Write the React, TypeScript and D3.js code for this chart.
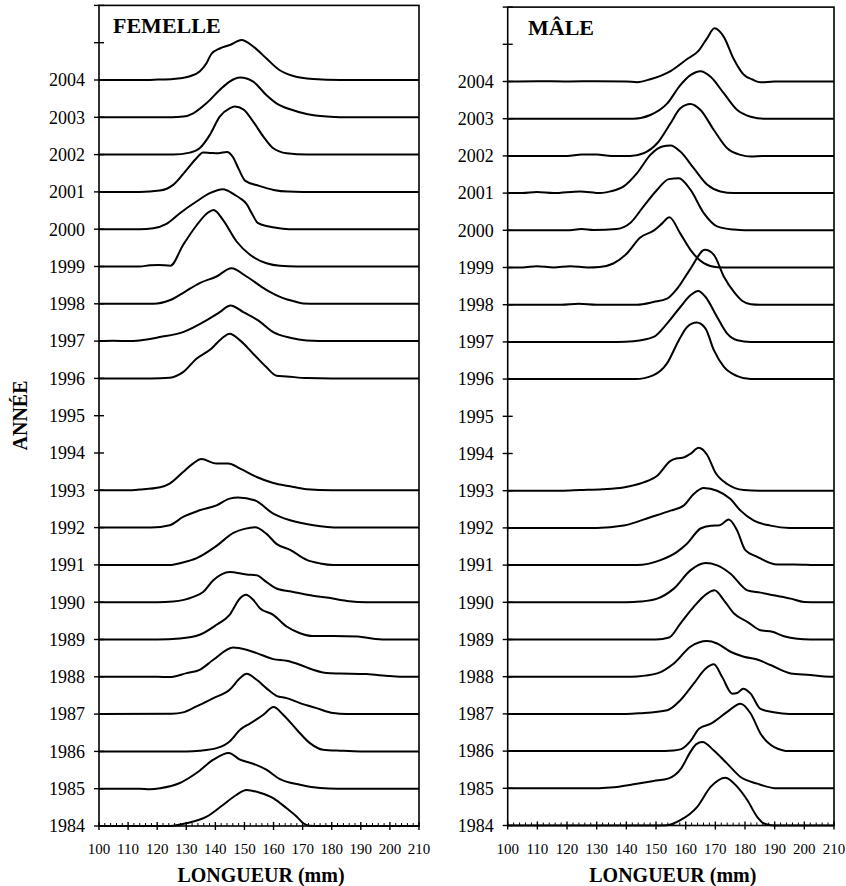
import React from "react";
import * as d3 from "d3";

// ---------- tick labels ----------
const X_TICKS = [100, 110, 120, 130, 140, 150, 160, 170, 180, 190, 200, 210];
const YEAR_LABELS = [1984, 1985, 1986, 1987, 1988, 1989, 1990, 1991, 1992, 1993, 1994, 1995, 1996, 1997, 1998, 1999, 2000, 2001, 2002, 2003, 2004];
const YEARS = [1984, 1985, 1986, 1987, 1988, 1989, 1990, 1991, 1992, 1993, 1996, 1997, 1998, 1999, 2000, 2001, 2002, 2003, 2004];
// frequency that corresponds to one year-row of height
const ROW_UNIT = 37.3;

type P = [number, number];

// ---------- FEMELLE: [longueur mm, fréquence] ----------
const F_1984: P[] = [[100,0],[124,0],[125.5,0.3],[130,2.7],[137,9.3],[142.6,21],[147.2,31],[150.7,36],[155.3,33.3],[160,27.7],[164.5,17.7],[168,9.3],[170.2,2.7],[172.5,0.3],[175,0],[210,0]];
const F_1985: P[] = [[100,0],[114,0],[117.5,-0.5],[121,0.5],[127.8,5.7],[133.5,15.7],[139.3,29],[144.6,35.7],[148.5,29],[153,25],[157.5,19],[162.2,9.5],[169.1,4],[176,0.7],[182,0],[210,0]];
const F_1986: P[] = [[100,0],[130,0],[134.6,0.7],[140.4,3.3],[144.9,10],[148.5,21.7],[152,28],[156.5,36.7],[160,44.3],[163.3,36.7],[168,21.7],[172.5,8.3],[177,1.7],[183,0.7],[190,0],[210,0]];
const F_1987: P[] = [[100,0],[125,0.3],[128.9,1.7],[133.5,7.7],[139.3,16],[144.9,24.3],[148.5,36],[150.7,40.3],[154.2,34.3],[157.5,26],[161,18.3],[164.5,16],[169.1,11],[174.8,6],[180.5,1],[185,0],[210,0]];
const F_1988: P[] = [[100,0],[120,0],[124.3,-0.3],[130.1,3.7],[134.6,7],[139.3,17],[146.1,29.3],[150.7,27],[154.2,23.7],[159.9,17.7],[164.5,16],[169.1,12],[173.6,7],[178.3,3.7],[183,3.3],[192,2.7],[200,0.7],[205,0],[210,0]];
const F_1989: P[] = [[100,0],[120,0],[127.8,1],[134.6,4.7],[140.4,14.7],[144.9,24.7],[148.5,41.3],[150.5,44.7],[153,39.7],[155.3,31.3],[159.9,24.7],[164.5,13],[169.1,6.3],[173.6,3.5],[180.5,3.5],[189,3],[195,0.5],[200,0],[210,0]];
const F_1990: P[] = [[100,0],[120,0],[125.5,0.7],[132.4,5.3],[135.8,10.3],[139.3,22],[144.9,30.3],[150.7,27.7],[154.2,27],[157.5,20.3],[161,13.7],[166.8,10.3],[173.6,6.5],[178.3,4.7],[185.2,1.3],[192,0],[210,0]];
const F_1991: P[] = [[100,0],[125,0],[127.8,1.7],[133.6,6.7],[140.4,19],[146.2,32],[150,36],[153.6,37.7],[157.6,31],[161,21],[165.7,15],[171.4,5],[176,1.5],[180.5,0],[210,0]];
const F_1992: P[] = [[100,0],[118,0],[124.3,2.3],[128.9,10.7],[134.6,17.3],[140.4,22.3],[144.9,29],[147.8,30],[153.5,27.3],[159.9,14],[165.7,7.3],[173.7,2.3],[182.8,0],[210,0]];
const F_1993: P[] = [[100,0],[110,0],[114,0.7],[121,3],[124.3,6.7],[128.9,18.3],[132.3,26.7],[135.2,31.3],[140.4,26.7],[144.4,26.7],[148.5,21.7],[154.2,13.3],[159.9,7.3],[165.7,4],[171.4,1],[180,0],[210,0]];
const F_1996: P[] = [[100,0],[118,0],[124.3,0.7],[128.9,6.3],[133.5,19.7],[138.6,29.7],[142.1,39.7],[144.9,44.7],[148.5,38],[153,24.7],[157.5,11.3],[161,2.7],[164.5,2],[171.4,0.3],[180,0],[210,0]];
const F_1997: P[] = [[100,0],[105,0.3],[110,0],[114,0.7],[120.9,4],[128.9,9],[136.9,20.7],[141.5,29],[145.2,35.7],[149.6,29],[154.7,20.7],[159.9,9],[165.7,3.3],[171.4,0.7],[180,0],[210,0]];
const F_1998: P[] = [[100,0],[118.7,0],[124.3,3.5],[129.5,12],[134.6,20.7],[140.4,27.3],[145.5,35.5],[150.7,27.3],[157.5,14],[163.3,5.7],[167,2.5],[170.2,0.3],[175,0],[210,0]];
const F_1999: P[] = [[100,0],[114,0],[117.5,1.2],[120.5,1.5],[124.5,0.8],[129,22],[133.5,41],[137.5,54],[139.4,56.5],[142.6,46.7],[147.3,25],[151.9,11.7],[157.6,3.3],[162.2,0.7],[168,0],[210,0]];
const F_2000: P[] = [[100,0],[114,0],[118.7,1],[123.2,5.3],[127.8,16],[133.5,27.7],[138.1,36],[142.6,40],[146.7,34.3],[148.5,31],[150.8,25],[152.5,16],[154.7,6],[158,3],[162,1],[166,0],[210,0]];
const F_2001: P[] = [[100,0],[114,0],[120.9,1.3],[125.5,7],[130.1,22],[133.5,33.7],[135.8,39.5],[138.5,39],[141,38.7],[144,40],[146,35],[148,23],[150.3,11],[155,6],[160,2],[165,0.3],[170,0],[210,0]];
const F_2002: P[] = [[100,0],[125.5,0],[131.2,2],[134.6,6.3],[138.1,19.7],[141.5,38],[144.9,46.3],[146.7,48],[149.6,45.3],[153,33],[156.5,18],[159.9,6.3],[164.5,1.3],[171.4,0],[210,0]];
const F_2003: P[] = [[100,0],[125,0],[129,0.7],[132.4,4],[136.9,14],[141.5,27.3],[144.9,35.7],[148.5,39.7],[153,35.7],[157.5,22.3],[161,14],[165.7,8],[171.4,3.3],[178.3,0.7],[183,0],[210,0]];
const F_2004: P[] = [[100,0],[114,0],[120,0.4],[125.5,1],[131,3.5],[134.6,8.5],[137,17],[138.6,26],[141.5,31.5],[145,35],[149,40],[153,33.5],[157.5,21.7],[162,10],[166.8,4],[173.6,1],[183,0],[210,0]];

// ---------- MÂLE ----------
const M_1984: P[] = [[100,0],[150,0],[153.8,0.3],[158.2,5.3],[163.9,18.7],[168.4,38.7],[173.4,48],[177.4,38.7],[180.8,25.3],[184.1,8.7],[186.4,2],[189.7,0],[210,0]];
const M_1985: P[] = [[100,0],[130,0],[134.6,0.7],[136.8,1.3],[142.4,4],[149.2,7.3],[154.3,10],[158.5,20],[161.5,36],[163.5,44],[165.6,46.3],[169.5,38],[174,24.7],[178.5,11.3],[184.1,4.7],[190.9,0],[210,0]];
const M_1986: P[] = [[100,0],[150,0],[156,0.7],[158.5,2],[161.6,10],[164.5,22.5],[168.5,27.5],[174,39.3],[178.5,47.5],[181.9,37.7],[185.2,17.7],[189.7,4.3],[195,0],[210,0]];
const M_1987: P[] = [[100,0],[140,0],[144.7,0.7],[153.8,3.7],[158.2,13.7],[162.7,30.3],[166.7,45.3],[169.5,49.7],[172.3,37],[175.7,20.3],[177.4,21],[179.4,25.3],[181.9,20.3],[185.2,5],[189.7,1.7],[195,0],[210,0]];
const M_1988: P[] = [[100,0],[140,0],[143.6,0.3],[150.4,3.3],[156,13.3],[161.6,30],[167.2,35.7],[170.6,33.3],[175.1,25],[179.6,20],[184.1,17.3],[188.6,11.7],[195.4,3.3],[202.1,1.7],[206,0.5],[210,0]];
const M_1989: P[] = [[100,0],[150,0],[154.4,2],[158.2,16],[162.7,32.7],[167.2,46],[169.7,49.3],[172.9,39.3],[176.3,26],[180.8,17.7],[185.2,9.3],[189.2,7.7],[193.1,3.3],[197.6,0.7],[202,0],[210,0]];
const M_1990: P[] = [[100,0],[140,0],[144.7,0.7],[150.4,3.7],[156,13.7],[161.6,32],[166.7,39.3],[170.6,37],[175.1,28.7],[180.8,12],[185.2,9.7],[189.7,7],[195.4,3.7],[199.9,0.3],[205,0],[210,0]];
const M_1991: P[] = [[100,0],[143.6,0],[151.5,5],[157.1,13.3],[160.5,21.7],[165,36.7],[168.5,39.5],[171.5,40],[174.5,45.7],[177.3,35],[180.1,15],[184.1,8.3],[190.9,0.7],[196.5,0.7],[205,0],[210,0]];
const M_1992: P[] = [[100,0],[130,0],[139.1,2.3],[148.1,10.7],[154.9,17.3],[159.3,22.3],[162.7,34],[166.1,40],[170.6,37.3],[175.1,29],[178.5,17.3],[183,7.3],[188.6,2.3],[195,0],[210,0]];
const M_1993: P[] = [[100,0],[118,0],[124.4,0.7],[132,1.5],[139,3.3],[145.8,8.3],[150.4,15],[154.9,30],[157.2,32.5],[159.3,33.3],[161.6,37],[164.4,43],[167.2,36],[170,18.3],[174,6.7],[179.6,0.7],[185,0],[210,0]];
const M_1996: P[] = [[100,0],[143,0],[149.2,4],[153.7,15.7],[157.7,39],[160.5,52.3],[163.7,56.7],[166.7,50.7],[169.5,29],[172.9,12.3],[177.4,3],[181.9,0],[210,0]];
const M_1997: P[] = [[100,0],[137,0],[142.4,0.7],[149.2,5],[153.7,18.3],[158.2,35],[161.6,46.7],[164.2,51],[166.7,45],[170.6,25],[174,8.3],[177.4,1.7],[181.9,0],[210,0]];
const M_1998: P[] = [[100,0],[118,0],[124,1],[130,0],[143.6,0],[149.2,2.7],[153.7,6],[157.1,16],[161.6,36],[166.5,55],[169.5,50],[172.9,28],[176.2,13],[179,4],[182,0.5],[185,0],[210,0]];
const M_1999: P[] = [[100,0],[105,0],[109.8,1.3],[115.5,0],[121.1,1.3],[127,0],[131,0.5],[135.6,4],[140,13.5],[144.7,30],[149.2,37],[152,44],[154.5,50.5],[158.2,34],[161.6,17.7],[166.1,4.3],[170.6,0.3],[175,0],[210,0]];
const M_2000: P[] = [[100,0],[120,0],[124.9,1.3],[129,0.3],[136.8,1.3],[141.3,7.3],[145.8,24],[150.4,40.7],[154.3,51.3],[157.7,52.3],[161.6,40.7],[166.1,17.3],[170.6,4],[176.3,0.7],[180,0],[210,0]];
const M_2001: P[] = [[100,0],[105,0],[109.8,1],[115.5,0],[124.4,1.7],[131.2,0],[134.6,1.7],[139.1,6.7],[143.6,20],[148.1,38.3],[152.1,46.7],[154.9,47.7],[158.2,41.7],[162.7,25],[167.3,8.3],[171.7,1.7],[176.3,0],[210,0]];
const M_2002: P[] = [[100,0],[120,0],[125,1.5],[130,1.5],[135,0],[141.3,0],[145.8,2.7],[150.4,12.7],[154.9,32.7],[158.2,47.7],[161.6,52],[165,46],[169.5,26],[174,7.7],[178.5,1],[181.9,-0.7],[186,0],[210,0]];
const M_2003: P[] = [[100,0],[142.4,0],[148.1,3.7],[153.8,15.3],[158.2,33.7],[161.6,43.7],[165,47.7],[168.4,42],[172.9,25.3],[177.4,8.7],[181.9,2],[186.4,0],[210,0]];
const M_2004: P[] = [[100,0],[110,0.3],[120,0],[130,0.3],[140,0],[143.6,-0.7],[148.1,2.3],[154.9,10.5],[160.5,22.5],[164.4,31],[167.2,43.3],[169.7,53.3],[172.8,45],[176.2,22.5],[179.6,6.7],[182.5,2],[185.2,-0.8],[190,0],[210,0]];

const FEMALE_CURVES: P[][] = [F_1984, F_1985, F_1986, F_1987, F_1988, F_1989, F_1990, F_1991, F_1992, F_1993, F_1996, F_1997, F_1998, F_1999, F_2000, F_2001, F_2002, F_2003, F_2004];
const MALE_CURVES: P[][] = [M_1984, M_1985, M_1986, M_1987, M_1988, M_1989, M_1990, M_1991, M_1992, M_1993, M_1996, M_1997, M_1998, M_1999, M_2000, M_2001, M_2002, M_2003, M_2004];

const FONT = '"Liberation Serif", "Times New Roman", Times, serif';

type PanelProps = {
  title: string;
  curves: P[][];
  x0: number;
  x1: number;
  yBottom: number;
  yTop: number;
  titleX: number;
  titleY: number;
};

function Panel({ title, curves, x0, x1, yBottom, yTop, titleX, titleY }: PanelProps) {
  const x = d3.scaleLinear().domain([100, 210]).range([x0, x1]);
  const y = d3.scaleLinear().domain([1984, 2006]).range([yBottom, yTop]);

  const minor = d3.range(100, 211, 2).filter((v) => v % 10 !== 0);
  const yTicks = d3.range(1984, 2007);

  return (
    <g>
      {curves.map((pts, i) => {
        const yr = YEARS[i];
        const line = d3
          .line<P>()
          .x((d) => x(d[0]))
          .y((d) => y(yr + d[1] / ROW_UNIT))
          .curve(d3.curveMonotoneX);
        return (
          <path
            key={yr}
            d={line(pts) || ""}
            fill="none"
            stroke="#000"
            strokeWidth={2}
            strokeLinejoin="round"
          />
        );
      })}
      {/* frame */}
      <rect
        x={x(100)}
        y={y(2006)}
        width={x(210) - x(100)}
        height={y(1984) - y(2006)}
        fill="none"
        stroke="#000"
        strokeWidth={1.6}
      />
      {/* y ticks */}
      {yTicks.map((t) => (
        <line key={"yt" + t} x1={x(100) - 5} x2={x(100) + 5} y1={y(t)} y2={y(t)} stroke="#000" strokeWidth={1.4} />
      ))}
      {YEAR_LABELS.map((t) => (
        <text
          key={"yl" + t}
          x={x(100) - 14}
          y={y(t)}
          dy="0.35em"
          textAnchor="end"
          fontFamily={FONT}
          fontSize={18}
        >
          {t}
        </text>
      ))}
      {/* x ticks */}
      {X_TICKS.map((t) => (
        <line key={"xt" + t} x1={x(t)} x2={x(t)} y1={y(1984) - 4} y2={y(1984) + 4} stroke="#000" strokeWidth={1.4} />
      ))}
      {minor.map((t) => (
        <line key={"xm" + t} x1={x(t)} x2={x(t)} y1={y(1984) - 3} y2={y(1984)} stroke="#000" strokeWidth={1} />
      ))}
      {X_TICKS.map((t) => (
        <text key={"xl" + t} x={x(t)} y={854} textAnchor="middle" fontFamily={FONT} fontSize={15}>
          {t}
        </text>
      ))}
      <text
        x={(x(100) + x(210)) / 2 + 2}
        y={881.5}
        textAnchor="middle"
        fontFamily={FONT}
        fontSize={20}
        fontWeight="bold"
      >
        LONGUEUR (mm)
      </text>
      <text x={titleX} y={titleY} fontFamily={FONT} fontSize={22} fontWeight="bold">
        {title}
      </text>
    </g>
  );
}

export default function App() {
  return (
    <div style={{ position: "absolute", left: 0, top: 0 }}>
      <svg width={846} height={886} style={{ display: "block", background: "#fff" }}>
        <rect x={0} y={0} width={846} height={886} fill="#fff" />
        <Panel title="FEMELLE" curves={FEMALE_CURVES} x0={99} x1={419} yBottom={826} yTop={5.4} titleX={113} titleY={33} />
        <Panel title="MÂLE" curves={MALE_CURVES} x0={507.7} x1={834} yBottom={825.5} yTop={7.1} titleX={528} titleY={35} />
        <text
          transform="translate(27,415.5) rotate(-90)"
          textAnchor="middle"
          fontFamily={FONT}
          fontSize={20}
          fontWeight="bold"
        >
          ANNÉE
        </text>
      </svg>
    </div>
  );
}
